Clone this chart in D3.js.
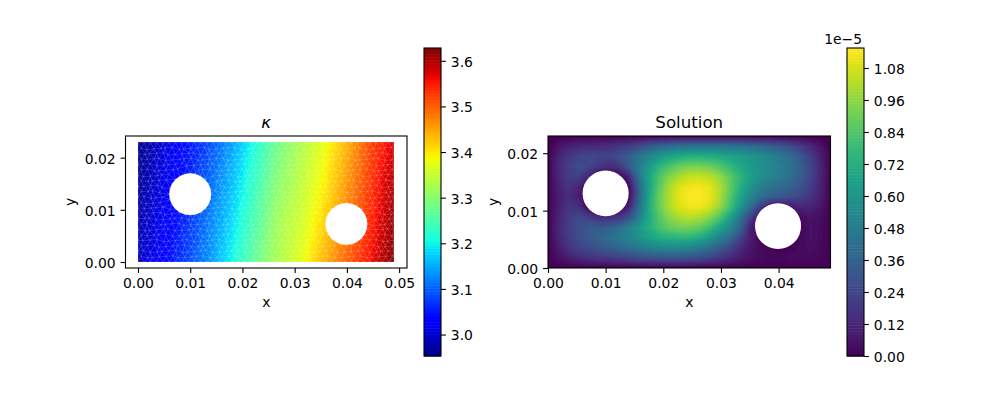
<!DOCTYPE html>
<html>
<head>
<meta charset="utf-8">
<script src="https://cdn.jsdelivr.net/npm/d3@7"></script>
<style>
html, body { margin: 0; padding: 0; background: #fff; }
svg { display: block; }
text { font-family: "DejaVu Sans", sans-serif; fill: #000; }
.tick text { font-size: 13.9px; }
.tick line { stroke: #000; stroke-width: 1.1px; }
</style>
</head>
<body>
<svg id="fig" width="1000" height="400"></svg>
<script>
// domain of the plate and its two holes
var plate_width = 0.049;
var plate_height = 0.023;
var hole_x = [0.01, 0.0399];
var hole_y = [0.013, 0.0073];
var hole_r = [0.004, 0.004];

// tick labels
var left_x_ticks = [0, 0.01, 0.02, 0.03, 0.04, 0.05];
var right_x_ticks = [0, 0.01, 0.02, 0.03, 0.04];
var y_ticks = [0, 0.01, 0.02];
var kappa_ticks = [3.0, 3.1, 3.2, 3.3, 3.4, 3.5, 3.6];
var solution_ticks = [0, 0.12, 0.24, 0.36, 0.48, 0.60, 0.72, 0.84, 0.96, 1.08];

var kappa_range = [2.953, 3.628];
var solution_range = [0, 1.155];

// kappa, top row first
var kappa_rows = [
	[2.955, 3.00, 3.04, 3.08, 3.14, 3.21, 3.28, 3.33, 3.38, 3.44, 3.52, 3.575],
	[2.965, 3.01, 3.05, 3.10, 3.16, 3.23, 3.30, 3.345, 3.395, 3.46, 3.53, 3.60],
	[2.98, 3.02, 3.06, 3.115, 3.18, 3.25, 3.32, 3.36, 3.415, 3.48, 3.54, 3.615],
	[2.99, 3.03, 3.075, 3.13, 3.20, 3.27, 3.33, 3.375, 3.44, 3.50, 3.56, 3.628]
];

// solution (x 1e-5), top row first
var solution_rows = [
	[0,0,0,0,0,0,0,0,0,0,0,0,0,0,0,0,0,0,0,0,0,0,0,0,0,0,0,0,0],
	[0,.06,.10,.13,.14,.14,.15,.18,.21,.26,.32,.37,.41,.43,.44,.45,.45,.45,.44,.43,.41,.39,.36,.32,.27,.21,.14,.07,0],
	[0,.11,.18,.23,.25,.24,.23,.28,.35,.44,.53,.61,.67,.71,.73,.73,.72,.70,.67,.64,.60,.56,.52,.47,.41,.32,.22,.10,0],
	[0,.13,.21,.26,.24,.18,.14,.18,.32,.48,.63,.75,.83,.89,.92,.92,.90,.85,.78,.70,.63,.58,.54,.50,.44,.35,.24,.12,0],
	[0,.12,.20,.22,.12,0,0,0,.12,.44,.67,.83,.94,1.01,1.05,1.06,1.04,.98,.87,.76,.66,.58,.53,.48,.42,.34,.24,.12,0],
	[0,.10,.17,.12,0,0,0,0,.02,.36,.66,.86,1.00,1.09,1.13,1.14,1.11,1.02,.89,.74,.60,.50,.44,.40,.36,.30,.21,.11,0],
	[0,.09,.15,.10,0,0,0,0,.02,.36,.68,.89,1.02,1.11,1.15,1.155,1.12,1.02,.86,.69,.54,.42,.35,.31,.28,.24,.18,.10,0],
	[0,.10,.17,.16,.01,0,0,0,.10,.42,.70,.89,1.01,1.09,1.13,1.13,1.08,.98,.82,.63,.42,.22,.05,.02,.06,.12,.12,.07,0],
	[0,.11,.20,.25,.22,.15,.15,.18,.28,.48,.70,.85,.95,1.01,1.03,1.01,.95,.84,.68,.47,.24,.03,0,0,0,.03,.06,.04,0],
	[0,.12,.21,.27,.31,.32,.34,.40,.50,.61,.72,.82,.88,.91,.91,.88,.80,.68,.55,.38,.12,0,0,0,0,.01,.05,.03,0],
	[0,.11,.20,.27,.32,.36,.41,.46,.52,.59,.66,.71,.74,.76,.75,.71,.63,.52,.42,.26,.10,.01,0,0,0,.02,.05,.03,0],
	[0,.09,.16,.22,.27,.30,.34,.38,.42,.46,.50,.53,.54,.54,.52,.48,.42,.34,.25,.15,.07,.03,.01,0,.01,.03,.04,.03,0],
	[0,.05,.09,.13,.16,.18,.20,.22,.24,.27,.29,.30,.31,.31,.29,.27,.23,.19,.14,.09,.05,.03,.02,.02,.03,.03,.03,.02,0],
	[0,0,0,0,0,0,0,0,0,0,0,0,0,0,0,0,0,0,0,0,0,0,0,0,0,0,0,0,0]
];

// matplotlib jet, channel by channel
var jet_r = d3.scaleLinear().domain([0, .35, .66, .89, 1]).range([0, 0, 1, 1, .5]);
var jet_g = d3.scaleLinear().domain([0, .125, .375, .64, .91, 1]).range([0, 0, 1, 1, 0, 0]);
var jet_b = d3.scaleLinear().domain([0, .11, .34, .65, 1]).range([.5, 1, 1, 0, 0]);
var jet = function(t) {
	return d3.rgb(jet_r(t) * 255, jet_g(t) * 255, jet_b(t) * 255).formatRgb();
};

var svg = d3.select("#fig");
var clip_count = 0;

var drawAxis = function(g, axis) {
	g.call(axis);
	g.select(".domain").remove();
};

// vertical axes: labels sit a touch lower than d3's default
var drawSideAxis = function(g, axis) {
	drawAxis(g, axis);
	g.selectAll(".tick text").attr("dy", "0.39em");
};

var drawFrame = function(parent, x, y, w, h) {
	parent.append("rect")
		.attr("x", x).attr("y", y).attr("width", w).attr("height", h)
		.attr("fill", "none").attr("stroke", "#000").attr("stroke-width", 1.1);
};

// filled contours of a grid, like tricontourf, grid corners sit on the plate corners
var drawField = function(parent, rows, x_scale, y_scale, range, color_fn) {
	var ny = rows.length, nx = rows[0].length;
	var step = (range[1] - range[0]) / 100;
	var levels = d3.range(100).map(function(i) { return range[0] + i * step; });
	var to_px = d3.geoTransform({
		point: function(px, py) {
			this.stream.point(
				x_scale((px - 0.5) / (nx - 1) * plate_width),
				y_scale(plate_height - (py - 0.5) / (ny - 1) * plate_height));
		}
	});
	var path = d3.geoPath(to_px);
	var contours = d3.contours().size([nx, ny]).thresholds(levels)(rows.flat());
	parent.selectAll("path.level")
		.data(contours)
		.enter().append("path")
		.attr("class", "level")
		.attr("d", path)
		.attr("fill", function(d) {
			return color_fn((d.value + step / 2 - range[0]) / (range[1] - range[0]));
		});
};

var drawHoles = function(parent, x_scale, y_scale) {
	parent.selectAll("ellipse.hole")
		.data(d3.range(hole_x.length))
		.enter().append("ellipse")
		.attr("class", "hole")
		.attr("cx", function(i) { return x_scale(hole_x[i]); })
		.attr("cy", function(i) { return y_scale(hole_y[i]); })
		.attr("rx", function(i) { return x_scale(hole_r[i]) - x_scale(0); })
		.attr("ry", function(i) { return y_scale(0) - y_scale(hole_r[i]); })
		.attr("fill", "#fff");
};

// triangle mesh: a staggered lattice, nudged a bit, plus a ring of nodes round each hole
var drawMesh = function(parent, x_scale, y_scale) {
	var nodes = [];
	var h = 0.0012;
	var nj = Math.round(plate_height / (h * 0.866)), ni = Math.round(plate_width / h);
	d3.range(0, nj + 1).forEach(function(j) {
		d3.range(0, ni + 2).forEach(function(i) {
			var edge = j == 0 || j == nj || i == 0 || i >= ni;
			var nudge_x = edge ? 0 : ((i * 37 + j * 17) % 7 / 7 - 0.5) * h * 0.45;
			var nudge_y = edge ? 0 : ((i * 11 + j * 29) % 5 / 5 - 0.5) * h * 0.45;
			var x = Math.min(plate_width, (i + (j % 2) * 0.5) * h + nudge_x);
			var y = Math.min(plate_height, j * h * 0.866 + nudge_y);
			var free = hole_x.every(function(hx, k) {
				return Math.hypot(x - hx, y - hole_y[k]) > hole_r[k] + h * 0.6;
			});
			if (free) nodes.push([x_scale(x), y_scale(y)]);
		});
	});
	hole_x.forEach(function(hx, k) {
		d3.range(24).forEach(function(a) {
			var t = a / 24 * 2 * Math.PI;
			nodes.push([x_scale(hx + hole_r[k] * Math.cos(t)), y_scale(hole_y[k] + hole_r[k] * Math.sin(t))]);
		});
	});
	parent.append("path")
		.attr("d", d3.Delaunay.from(nodes).render())
		.attr("fill", "none")
		.attr("stroke", "#fff")
		.attr("stroke-opacity", 0.3)
		.attr("stroke-width", 0.6);
};

var drawColorbar = function(x0, range, ticks, color_fn, format) {
	var top = 48, bottom = 356, w = 17;
	var y = d3.scaleLinear().domain(range).range([bottom, top]);
	var g = svg.append("g");
	var step = (range[1] - range[0]) / 100;
	g.selectAll("rect.band")
		.data(d3.range(100))
		.enter().append("rect")
		.attr("class", "band")
		.attr("x", x0).attr("width", w)
		.attr("y", function(i) { return y(range[0] + (i + 1) * step); })
		.attr("height", function(i) { return y(range[0] + i * step) - y(range[0] + (i + 1) * step) + 0.5; })
		.attr("fill", function(i) { return color_fn((i + 0.5) / 100); });
	drawFrame(g, x0, top, w, bottom - top);
	svg.append("g")
		.attr("transform", "translate(" + (x0 + w) + ",0)")
		.call(drawSideAxis, d3.axisRight(y).tickValues(ticks).tickFormat(format).tickSize(4.9).tickPadding(4.9));
};

var drawPanel = function(opts) {
	var left = opts.left, right = opts.right, top = 136, bottom = 268;
	var g = svg.append("g");
	var id = "clip" + (clip_count++);
	var x = d3.scaleLinear().domain(opts.x_domain).range([left, right]);
	var y = d3.scaleLinear().domain(opts.y_domain).range([bottom, top]);

	g.append("clipPath").attr("id", id).append("rect")
		.attr("x", x(0)).attr("y", y(plate_height))
		.attr("width", x(plate_width) - x(0)).attr("height", y(0) - y(plate_height));
	var field = g.append("g").attr("clip-path", "url(#" + id + ")");
	drawField(field, opts.rows, x, y, opts.range, opts.color_fn);
	if (opts.mesh) drawMesh(field, x, y);
	drawHoles(field, x, y);
	drawFrame(g, left, top, right - left, bottom - top);

	g.append("g").attr("transform", "translate(0," + bottom + ")")
		.call(drawAxis, d3.axisBottom(x).tickValues(opts.x_ticks).tickFormat(d3.format(".2f")).tickSize(4.9).tickPadding(4.9));
	g.append("g").attr("transform", "translate(" + left + ",0)")
		.call(drawSideAxis, d3.axisLeft(y).tickValues(y_ticks).tickFormat(d3.format(".2f")).tickSize(4.9).tickPadding(4.9));

	var cx = (left + right) / 2;
	g.append("text").attr("x", cx).attr("y", 307).attr("text-anchor", "middle")
		.style("font-size", "13.9px").text("x");
	g.append("text")
		.attr("transform", "translate(" + opts.y_label_x + "," + ((top + bottom) / 2) + ") rotate(-90)")
		.attr("text-anchor", "middle").style("font-size", "13.9px").text("y");
	g.append("text").attr("x", cx).attr("y", 128).attr("text-anchor", "middle")
		.style("font-size", "16.67px").style("font-style", opts.title_style).text(opts.title);
};

drawPanel({
	left: 125.5, right: 407,
	x_domain: [-0.00239, 0.05151], y_domain: [-0.00115, 0.02415],
	rows: kappa_rows, range: kappa_range, color_fn: jet, mesh: true,
	x_ticks: left_x_ticks, y_label_x: 75, title: "κ", title_style: "italic"
});
drawPanel({
	left: 548, right: 830.5,
	x_domain: [0, plate_width], y_domain: [0, plate_height],
	rows: solution_rows, range: solution_range, color_fn: d3.interpolateViridis, mesh: false,
	x_ticks: right_x_ticks, y_label_x: 498, title: "Solution", title_style: "normal"
});

drawColorbar(424, kappa_range, kappa_ticks, jet, d3.format(".1f"));
drawColorbar(847, solution_range, solution_ticks, d3.interpolateViridis, d3.format(".2f"));

svg.append("text").attr("x", 862).attr("y", 44).attr("text-anchor", "end")
	.style("font-size", "13.9px").text("1e\u22125");
</script>
</body>
</html>
